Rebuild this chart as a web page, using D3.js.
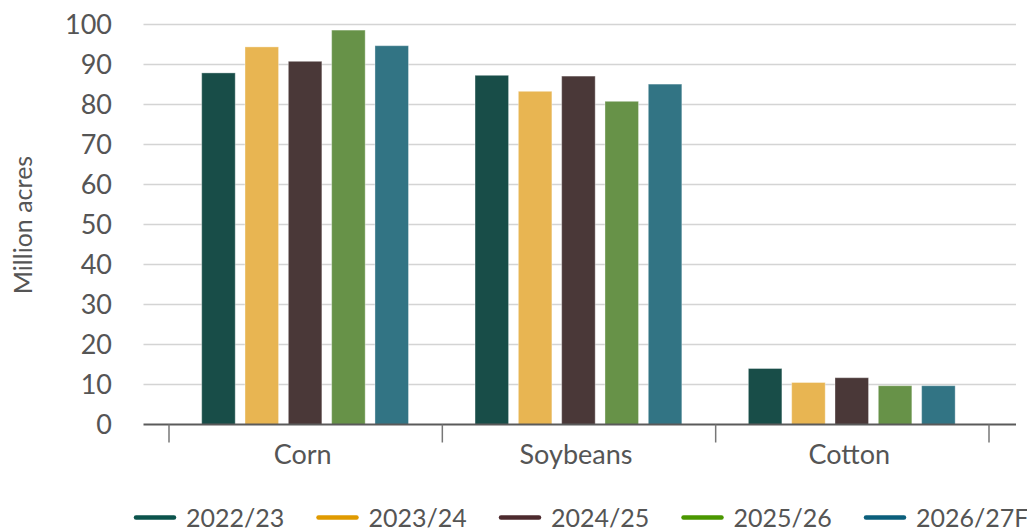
<!DOCTYPE html>
<html><head><meta charset="utf-8">
<script src="https://cdn.jsdelivr.net/npm/d3@7"></script>
<style>
html,body{margin:0;padding:0;background:#fff;}
svg{display:block;font-family:Lato, "Open Sans", sans-serif;}
</style></head>
<body><svg id="c" width="1027" height="531"></svg>
<script>
const categories = ["Corn", "Soybeans", "Cotton"];
const seriesNames = ["2022/23", "2023/24", "2024/25", "2025/26", "2026/27F"];
const v2022 = [87.9, 87.3, 14.0];
const v2023 = [94.4, 83.3, 10.5];
const v2024 = [90.8, 87.1, 11.7];
const v2025 = [98.6, 80.8, 9.7];
const v2026 = [94.7, 85.1, 9.7];
const seriesValues = [v2022, v2023, v2024, v2025, v2026];
const yTicks = [0, 10, 20, 30, 40, 50, 60, 70, 80, 90, 100];
const yLabel = "Million acres";

const barColors = ["#184d48", "#e8b552", "#4a3838", "#679248", "#327484"];
const legendColors = ["#0b534c", "#e09a00", "#4d2a2e", "#4a9700", "#0b5f7c"];

const svg = d3.select("#c");
const plotLeft = 143.5, plotRight = 1016;
const y = d3.scaleLinear().domain([0, 100]).range([424.5, 24.5]);
const x0 = d3.scaleBand().domain(categories).range([169, 989]).padding(0);
const x1 = d3.scaleBand().domain(seriesNames).range([32.7, 239.5]).paddingInner(0.226).paddingOuter(0);

// gridlines
svg.append("g").selectAll("line").data(yTicks.filter(t => t > 0)).join("line")
  .attr("x1", plotLeft).attr("x2", plotRight)
  .attr("y1", d => y(d)).attr("y2", d => y(d))
  .attr("stroke", "#d4d4d4").attr("stroke-width", 1.5);

// y tick labels
svg.append("g").selectAll("text").data(yTicks).join("text")
  .attr("x", 112).attr("y", d => y(d)).attr("dy", "0.36em")
  .attr("text-anchor", "end").attr("font-size", 27).attr("fill", "#555")
  .text(d => d);

// y label
svg.append("text")
  .attr("transform", "translate(32,225) rotate(-90)")
  .attr("text-anchor", "middle").attr("font-size", 25).attr("fill", "#555")
  .text(yLabel);

// bars
const groups = svg.append("g").selectAll("g").data(categories).join("g")
  .attr("transform", d => `translate(${x0(d)},0)`);
groups.selectAll("rect").data((c, ci) => seriesNames.map((s, si) => ({s, si, v: seriesValues[si][ci]})))
  .join("rect")
  .attr("x", d => x1(d.s)).attr("width", x1.bandwidth())
  .attr("y", d => y(d.v)).attr("height", d => y(0) - y(d.v))
  .attr("fill", d => barColors[d.si])
  .attr("stroke", "rgba(255,255,255,0.35)").attr("stroke-width", 1);

// x axis line
svg.append("line").attr("x1", plotLeft).attr("x2", plotRight)
  .attr("y1", y(0)).attr("y2", y(0))
  .attr("stroke", "#5a5a5a").attr("stroke-width", 2);

// x ticks at band boundaries
const bounds = categories.map(c => x0(c)).concat([x0.range()[1]]);
svg.append("g").selectAll("line").data(bounds).join("line")
  .attr("x1", d => d).attr("x2", d => d)
  .attr("y1", y(0)).attr("y2", y(0) + 18)
  .attr("stroke", "#777").attr("stroke-width", 1.5);

// category labels
svg.append("g").selectAll("text").data(categories).join("text")
  .attr("x", d => x0(d) + x0.bandwidth() / 2 - 3).attr("y", 464)
  .attr("text-anchor", "middle").attr("font-size", 27).attr("fill", "#555")
  .text(d => d);

// legend
const lg = svg.append("g").selectAll("g").data(seriesNames).join("g")
  .attr("transform", (d, i) => `translate(${134 + i * 182.5},517.5)`);
lg.append("line").attr("x1", 2).attr("x2", 40).attr("y1", 0).attr("y2", 0)
  .attr("stroke", (d, i) => legendColors[i]).attr("stroke-width", 4.5)
  .attr("stroke-linecap", "round");
lg.append("text").attr("x", 52).attr("y", 0).attr("dy", "0.36em")
  .attr("font-size", 25).attr("fill", "#555").text(d => d);
</script></body></html>
